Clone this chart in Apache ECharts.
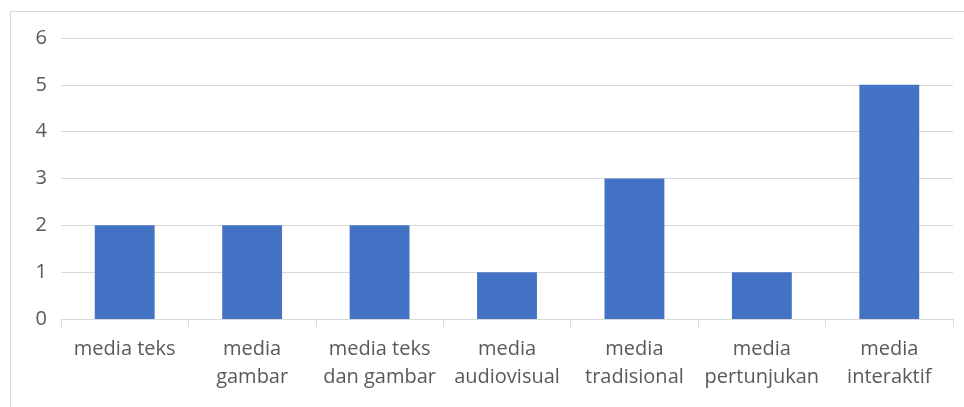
<!DOCTYPE html>
<html>
<head>
<meta charset="utf-8">
<script src="https://cdn.jsdelivr.net/npm/echarts@6/dist/echarts.min.js"></script>
<style>
  html, body { margin: 0; padding: 0; background: #ffffff; }
  #chart { width: 964px; height: 407px; }
</style>
</head>
<body>
<div id="chart"></div>
<script>
// Media types and how many times each was chosen
const categories = [
  'media teks', 'media gambar', 'media teks dan gambar', 'media audiovisual',
  'media tradisional', 'media pertunjukan', 'media interaktif'
];
const tickLabels = [
  'media teks', 'media\ngambar', 'media teks\ndan gambar', 'media\naudiovisual',
  'media\ntradisional', 'media\npertunjukan', 'media\ninteraktif'
];
const counts = [2, 2, 2, 1, 3, 1, 5];
const yTicks = [0, 1, 2, 3, 4, 5, 6];

const chart = echarts.init(document.getElementById('chart'), null, { renderer: 'canvas' });

chart.setOption({
  animation: false,
  backgroundColor: '#ffffff',
  textStyle: { fontFamily: '"Open Sans", "Noto Sans", sans-serif' },
  graphic: [{
    type: 'rect',
    shape: { x: 10.5, y: 11.5, width: 1000, height: 500 },
    style: { fill: 'none', stroke: '#d9d9d9', lineWidth: 1 },
    silent: true
  }],
  grid: { left: 61, right: 11, top: 38, bottom: 88, containLabel: false },
  xAxis: {
    type: 'category',
    data: categories,
    axisLine: { show: true, lineStyle: { color: '#d9d9d9', width: 1 } },
    axisTick: { show: true, length: 8, alignWithLabel: false, lineStyle: { color: '#d9d9d9' } },
    axisLabel: {
      color: '#595959',
      fontSize: 20,
      lineHeight: 28,
      margin: 16,
      interval: 0,
      formatter: (v, i) => tickLabels[i]
    }
  },
  yAxis: {
    type: 'value',
    min: yTicks[0],
    max: yTicks[yTicks.length - 1],
    interval: 1,
    axisLine: { show: false },
    axisTick: { show: false },
    axisLabel: { color: '#595959', fontSize: 20, margin: 14 },
    splitLine: { lineStyle: { color: '#d9d9d9', width: 1 } }
  },
  series: [{
    type: 'bar',
    data: counts,
    barWidth: '47%',
    itemStyle: { color: '#4472c4' }
  }]
});
</script>
</body>
</html>
